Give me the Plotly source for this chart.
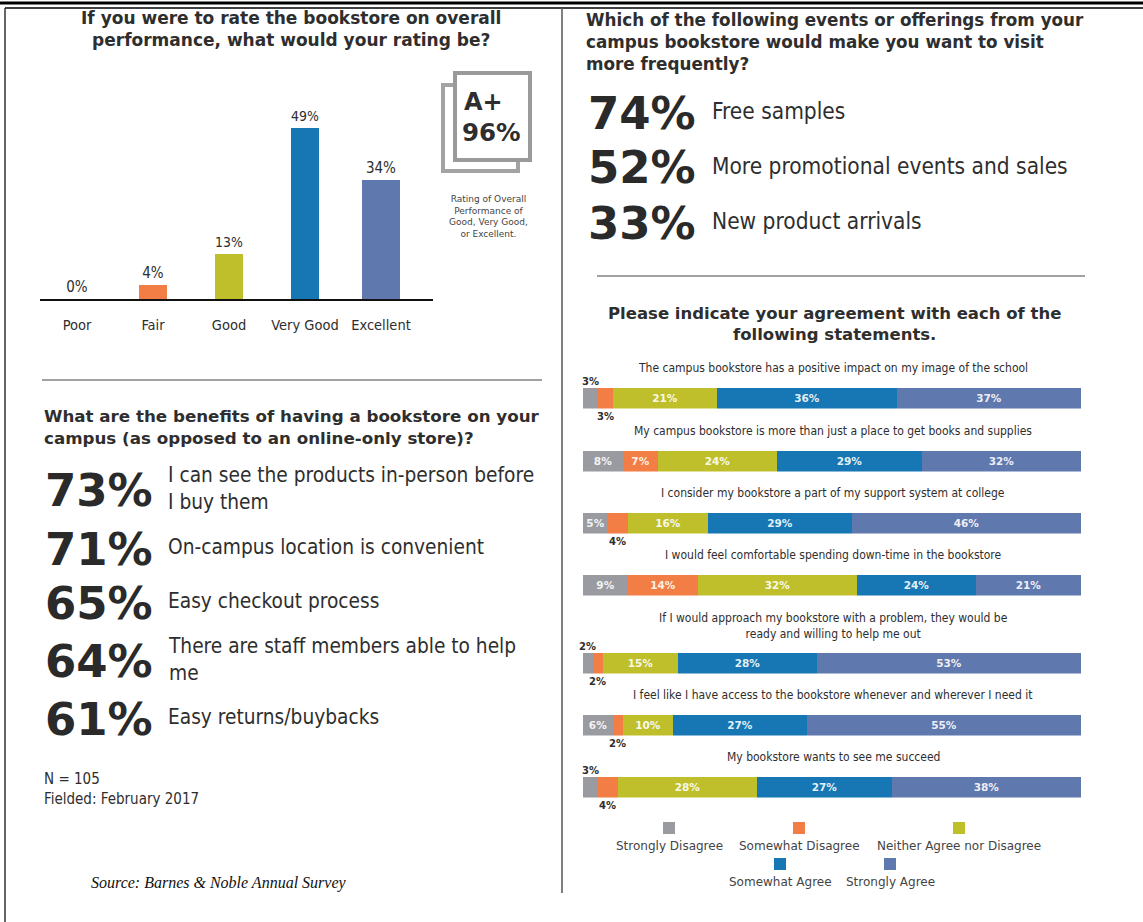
import plotly.graph_objects as go

W, H = 1143, 922

# ---------------- data ----------------
rating_categories = ["Poor", "Fair", "Good", "Very Good", "Excellent"]
rating_values = [0, 4, 13, 49, 34]
rating_top_share = 96

visit_values = [74, 52, 33]
visit_labels = ["Free samples", "More promotional events and sales", "New product arrivals"]

benefit_values = [73, 71, 65, 64, 61]
benefit_labels = [
    "I can see the products in-person before<br>I buy them",
    "On-campus location is convenient",
    "Easy checkout process",
    "There are staff members able to help<br>me",
    "Easy returns/buybacks",
]

statements = [
    "The campus bookstore has a positive impact on my image of the school",
    "My campus bookstore is more than just a place to get books and supplies",
    "I consider my bookstore a part of my support system at college",
    "I would feel comfortable spending down-time in the bookstore",
    "If I would approach my bookstore with a problem, they would be<br>ready and willing to help me out",
    "I feel like I have access to the bookstore whenever and wherever I need it",
    "My bookstore wants to see me succeed",
]
agree_levels = ["Strongly Disagree", "Somewhat Disagree", "Neither Agree nor Disagree",
                "Somewhat Agree", "Strongly Agree"]
strongly_disagree = [3, 8, 5, 9, 2, 6, 3]
somewhat_disagree = [3, 7, 4, 14, 2, 2, 4]
neither = [21, 24, 16, 32, 15, 10, 28]
somewhat_agree = [36, 29, 29, 24, 28, 27, 27]
strongly_agree = [37, 32, 46, 21, 53, 55, 38]

# ---------------- styles ----------------
C_GRAY = "#9a9ba0"
C_ORANGE = "#f27d45"
C_OLIVE = "#bfbf2c"
C_BLUE = "#1677b4"
C_SLATE = "#5f78ae"
level_colors = [C_GRAY, C_ORANGE, C_OLIVE, C_BLUE, C_SLATE]
rating_colors = [C_GRAY, C_ORANGE, C_OLIVE, C_BLUE, C_SLATE]
TXT = "#2e2e2e"
SANS = "DejaVu Sans Condensed, DejaVu Sans, sans-serif"
WIDE = "DejaVu Sans, sans-serif"


def fx(x):
    return x / W


def fy(y):
    return 1 - y / H


fig = go.Figure()
annotations = []
shapes = []


def text(x, y, s, size, family=SANS, xanchor="left", color=TXT, align="left", **kw):
    annotations.append(dict(x=fx(x), y=fy(y), xref="paper", yref="paper", text=s,
                            showarrow=False, xanchor=xanchor, yanchor="middle", align=align,
                            font=dict(size=size, family=family, color=color), **kw))


def line(x0, y0, x1, y1, color="#111", width=1):
    shapes.append(dict(type="line", xref="paper", yref="paper", x0=fx(x0), x1=fx(x1),
                       y0=fy(y0), y1=fy(y1), line=dict(color=color, width=width)))


# ---------------- frame ----------------
line(0, 3, W, 3, "#000", 3)
line(5, 8, W, 8, "#000", 1.5)
line(5, 8, 5, H, "#333", 1.5)
line(562, 8, 562, 893, "#555", 1.5)
line(42, 380, 542, 380, "#444", 1.2)
line(597, 276, 1085, 276, "#444", 1.2)

# ---------------- rating bar chart ----------------
text(291, 29, "<b>If you were to rate the bookstore on overall<br>performance, what would your rating be?</b>",
     17, WIDE, xanchor="center", align="center")

fig.add_trace(go.Bar(
    x=rating_categories, y=rating_values,
    marker=dict(color=rating_colors, line=dict(width=0)),
    width=[0.37, 0.37, 0.37, 0.37, 0.49],
    text=[f"{v}%" for v in rating_values], textposition="outside",
    textfont=dict(size=15, family=SANS, color=TXT), cliponaxis=False,
    xaxis="x", yaxis="y", showlegend=False, hoverinfo="x+y",
))

x0_px, x1_px = 40, 433
step = 76
fig.update_layout(
    xaxis=dict(domain=[fx(x0_px), fx(x1_px)], anchor="y", type="category",
               range=[(x0_px - 77) / step, (x1_px - 77) / step],
               showline=True, linecolor="#111", linewidth=2, showgrid=False, zeroline=False,
               ticks="", tickfont=dict(size=14.5, family=SANS, color=TXT), ticklabelstandoff=12,
               fixedrange=True),
    yaxis=dict(domain=[fy(299), fy(107)], anchor="x", range=[0, 55], visible=False,
               fixedrange=True),
)

# A+ badge
shapes.append(dict(type="rect", xref="paper", yref="paper", x0=fx(443), x1=fx(518),
                   y0=fy(171), y1=fy(85), line=dict(color="#a3a3a3", width=4), fillcolor="white"))
shapes.append(dict(type="rect", xref="paper", yref="paper", x0=fx(455), x1=fx(530),
                   y0=fy(160), y1=fy(73), line=dict(color="#9a9a9a", width=4), fillcolor="white"))
text(462, 102, "<b>A+</b>", 24, WIDE)
text(460, 132, f"<b>{rating_top_share}%</b>", 24.5, WIDE)
text(488, 216, "Rating of Overall<br>Performance of<br>Good, Very Good,<br>or Excellent.", 9, WIDE,
     xanchor="center", align="center", color="#444")

# ---------------- visit frequency ----------------
text(584, 42, "<b>Which of the following events or offerings from your<br>campus bookstore would make you want to visit<br>more frequently?</b>",
     16.8, WIDE)
visit_y = [111, 166, 221]
for v, lab, yy in zip(visit_values, visit_labels, visit_y):
    text(586, yy + 2, f"<b>{v}%</b>", 45, WIDE, color="#2a2a2a")
    text(710, yy, lab, 22.5, SANS)

# ---------------- benefits ----------------
text(42, 427, "<b>What are the benefits of having a bookstore on your<br>campus (as opposed to an online-only store)?</b>",
     16.7, WIDE)
benefit_y = [488, 547, 601, 659, 717]
for v, lab, yy in zip(benefit_values, benefit_labels, benefit_y):
    text(43, yy + 2, f"<b>{v}%</b>", 45, WIDE, color="#2a2a2a")
    text(166, yy, lab, 20.7, SANS)

text(42, 789, "N = 105<br>Fielded: February 2017", 15, SANS)
text(89, 883, "<i>Source: Barnes &amp; Noble Annual Survey</i>", 16, "Liberation Serif, serif", color="#111")

# ---------------- agreement chart ----------------
text(834, 324, "<b>Please indicate your agreement with each of the<br>following statements.</b>",
     16.5, WIDE, xanchor="center", align="center")

series = [strongly_disagree, somewhat_disagree, neither, somewhat_agree, strongly_agree]
row_centers = [398, 461, 523, 585, 663, 725, 787]
bar_h = 21
bx0, bx1 = 583, 1081

for i, stmt in enumerate(statements):
    ax = i + 2
    xa, ya = f"x{ax}", f"y{ax}"
    vals = [s[i] for s in series]
    for k, (lvl, col) in enumerate(zip(agree_levels, level_colors)):
        v = vals[k]
        fig.add_trace(go.Bar(
            y=[stmt], x=[v], orientation="h", name=lvl,
            marker=dict(color=col, line=dict(width=0)),
            text=[f"{v}%" if v > 4 else ""], textposition="inside", insidetextanchor="middle",
            textangle=0, constraintext="none",
            textfont=dict(size=10.5, family=WIDE, color="rgba(255,255,255,0.9)", weight="bold"),
            xaxis=xa, yaxis=ya, showlegend=False, hovertemplate=f"{lvl}: %{{x}}%<extra></extra>",
        ))
        if v <= 4 and k < 2:
            mid = sum(vals[:k]) + v / 2
            off = -17 if k == 0 else 18
            annotations.append(dict(x=mid, y=fy(row_centers[i] + off), xref=xa, yref="paper",
                                    text=f"<b>{v}%</b>", showarrow=False, xanchor="center",
                                    yanchor="middle",
                                    font=dict(size=10, family=WIDE, color=TXT)))
    c = row_centers[i]
    fig.layout[f"xaxis{ax}"] = dict(domain=[fx(bx0), fx(bx1)], anchor=ya, range=[0, 100],
                                    visible=False, fixedrange=True)
    fig.layout[f"yaxis{ax}"] = dict(domain=[fy(c + bar_h / 2), fy(c - bar_h / 2)], anchor=xa,
                                    visible=False, fixedrange=True)
    nlines = stmt.count("<br>") + 1
    text(833, c - 30 - (nlines - 1) * 7.5, stmt, 12, SANS, xanchor="center", align="center")

# legend (custom two-row layout)
legend_pos = [(669, 828), (799, 828), (959, 828), (780, 864), (890, 864)]
for lvl, col, (lx, ly) in zip(agree_levels, level_colors, legend_pos):
    shapes.append(dict(type="rect", xref="paper", yref="paper", x0=fx(lx - 6), x1=fx(lx + 6),
                       y0=fy(ly + 6), y1=fy(ly - 6), line=dict(width=0), fillcolor=col))
    text(lx, ly + 18, lvl, 12, WIDE, xanchor="center", color="#444")

fig.update_layout(
    width=W, height=H, margin=dict(l=0, r=0, t=0, b=0),
    paper_bgcolor="white", plot_bgcolor="rgba(0,0,0,0)",
    barmode="stack", bargap=0, showlegend=False,
    annotations=annotations, shapes=shapes,
    font=dict(family=SANS, color=TXT),
)

fig.write_html("out.html")
